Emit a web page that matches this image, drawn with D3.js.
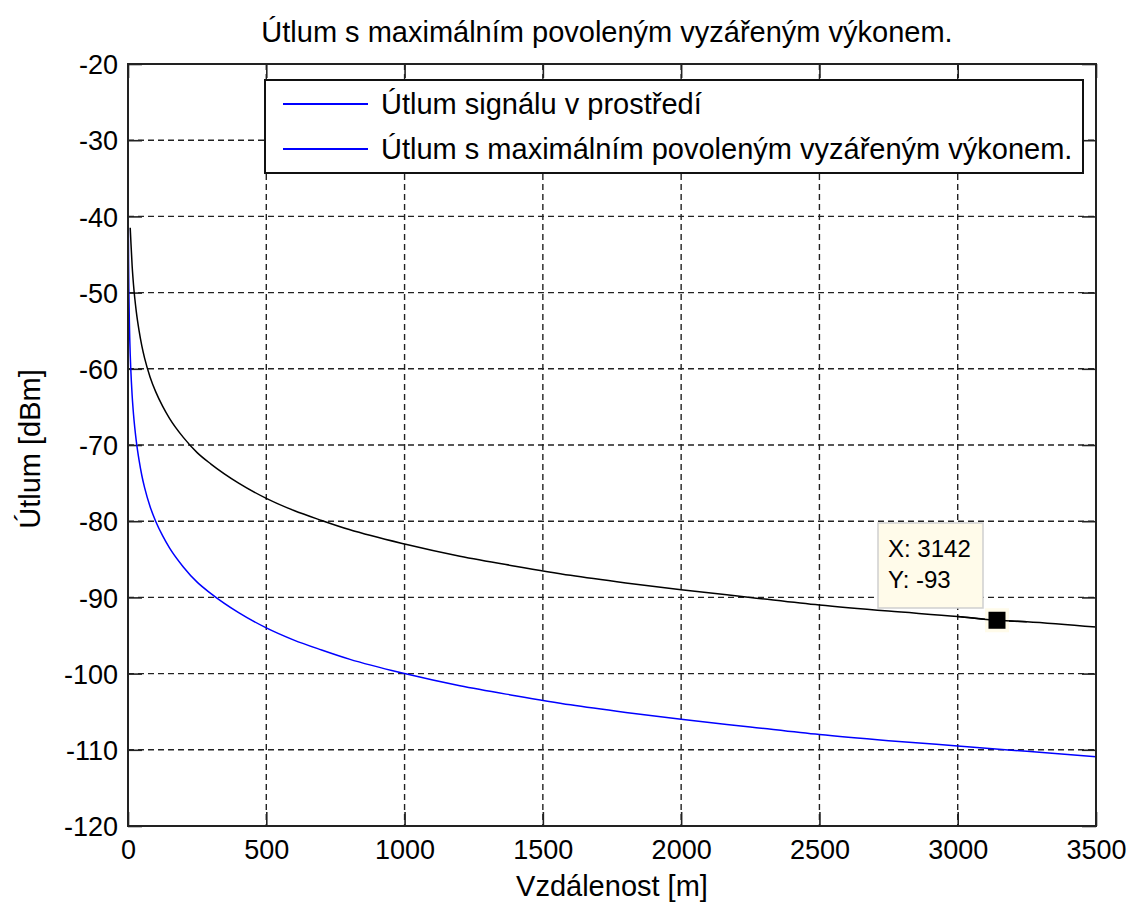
<!DOCTYPE html>
<html>
<head>
<meta charset="utf-8">
<script src="https://cdn.jsdelivr.net/npm/d3@7/dist/d3.min.js"></script>
<style>
  html, body { margin: 0; padding: 0; background: #fff; }
  svg { display: block; }
  text { font-family: "Liberation Sans", Arial, sans-serif; fill: #000; }
</style>
</head>
<body>
<svg id="chart" width="1130" height="903"></svg>
<script>
// Path loss with the maximum permitted radiated power (black)
const distBlack = [8, 10, 15, 20, 30, 40, 50, 60, 80, 100, 125, 150, 200, 250, 300, 400, 500, 600, 700, 800,
  1000, 1200, 1400, 1600, 1800, 2000, 2250, 2500, 2750, 3000, 3142, 3250, 3500];
const lossBlack = [-41.5, -43.0, -46.5, -49.0, -52.5, -55.0, -57.0, -58.6, -61.1, -63.0, -64.9, -66.5, -69.0, -71.0, -72.5, -75.0, -77.0, -78.6, -79.9, -81.1,
  -83.0, -84.6, -85.9, -87.1, -88.1, -89.0, -90.0, -91.0, -91.8, -92.5, -93.0, -93.2, -93.9];

// Signal attenuation in the environment (blue)
const distBlue = [1.2, 2, 3, 5, 8, 10, 15, 20, 30, 40, 50, 60, 80, 100, 125, 150, 200, 250, 300, 400, 500, 600, 700, 800,
  1000, 1200, 1400, 1600, 1800, 2000, 2250, 2500, 2750, 3000, 3250, 3500];
const lossBlue = [-41.5, -46.0, -49.5, -54.0, -58.1, -60.0, -63.5, -66.0, -69.5, -72.0, -74.0, -75.6, -78.1, -80.0, -81.9, -83.5, -86.0, -88.0, -89.5, -92.0, -94.0, -95.6, -96.9, -98.1,
  -100.0, -101.6, -102.9, -104.1, -105.1, -106.0, -107.0, -108.0, -108.8, -109.5, -110.2, -110.9];

const xTicks = [0, 500, 1000, 1500, 2000, 2500, 3000, 3500];
const yTicks = [-20, -30, -40, -50, -60, -70, -80, -90, -100, -110, -120];

const legendLabels = ["Útlum signálu v prostředí", "Útlum s maximálním povoleným vyzářeným výkonem."];
const titleText = "Útlum s maximálním povoleným vyzářeným výkonem.";
const xLabel = "Vzdálenost [m]";
const yLabel = "Útlum [dBm]";

// Data cursor
const tipX = [3142];
const tipY = [-93];

const svg = d3.select("#chart");
const L = 128, T = 64, R = 1096, B = 826;

const x = d3.scaleLinear().domain([0, 3500]).range([L, R]);
const y = d3.scaleLinear().domain([-120, -20]).range([B, T]);

// plain hyphen-minus for negative tick labels
const fmt = d => String(d);

// Grid (dashed)
const grid = svg.append("g")
  .attr("stroke", "#222").attr("stroke-width", 1.4).attr("stroke-dasharray", "6,4");
grid.selectAll("line.gx").data(xTicks.slice(1, -1)).join("line")
  .attr("x1", d => x(d)).attr("x2", d => x(d)).attr("y1", T).attr("y2", B);
grid.selectAll("line.gy").data(yTicks.slice(1, -1)).join("line")
  .attr("x1", L).attr("x2", R).attr("y1", d => y(d)).attr("y2", d => y(d));

// Axes with inward ticks on all four sides
const tickLen = 14;
const axB = svg.append("g").attr("transform", `translate(0,${B})`)
  .call(d3.axisBottom(x).tickValues(xTicks).tickFormat(fmt).tickSizeInner(-tickLen).tickSizeOuter(0).tickPadding(14));
const axT = svg.append("g").attr("transform", `translate(0,${T})`)
  .call(d3.axisTop(x).tickValues(xTicks).tickFormat("").tickSizeInner(-tickLen).tickSizeOuter(0));
const axL = svg.append("g").attr("transform", `translate(${L},0)`)
  .call(d3.axisLeft(y).tickValues(yTicks).tickFormat(fmt).tickSizeInner(-tickLen).tickSizeOuter(0).tickPadding(10));
const axR = svg.append("g").attr("transform", `translate(${R},0)`)
  .call(d3.axisRight(y).tickValues(yTicks).tickFormat("").tickSizeInner(-tickLen).tickSizeOuter(0));

[axB, axT, axL, axR].forEach(g => {
  g.select(".domain").remove();
  g.selectAll(".tick line").attr("stroke", "#222").attr("stroke-width", 1.6);
  g.selectAll("text").attr("font-size", 27).attr("fill", "#000")
    .style("font-family", '"Liberation Sans", Arial, sans-serif');
});
axL.selectAll("text").attr("dy", "0.36em");
axB.selectAll("text").attr("dy", "0.72em");

// Curves
const line = d3.line().x(d => x(d[0])).y(d => y(d[1])).curve(d3.curveMonotoneX);
svg.append("path").datum(d3.zip(distBlack, lossBlack))
  .attr("d", line).attr("fill", "none").attr("stroke", "#000").attr("stroke-width", 1.5);
svg.append("path").datum(d3.zip(distBlue, lossBlue))
  .attr("d", line).attr("fill", "none").attr("stroke", "#0000ff").attr("stroke-width", 1.5);

// Plot box
svg.append("rect").attr("x", L).attr("y", T).attr("width", R - L).attr("height", B - T)
  .attr("fill", "none").attr("stroke", "#222").attr("stroke-width", 2);

// Legend
const lg = svg.append("g");
lg.append("rect").attr("x", 265).attr("y", 80).attr("width", 818).attr("height", 93)
  .attr("fill", "#fff").attr("stroke", "#111").attr("stroke-width", 2);
legendLabels.forEach((lab, i) => {
  const ly = 104 + i * 45;
  lg.append("line").attr("x1", 283).attr("x2", 368).attr("y1", ly).attr("y2", ly)
    .attr("stroke", "#0000ff").attr("stroke-width", 1.8);
  lg.append("text").attr("x", 381).attr("y", ly + 10).attr("font-size", 29).text(lab);
});

// Data cursor marker and tip
const tip = svg.append("g");
tip.append("rect").attr("x", x(tipX[0]) - 12).attr("y", y(tipY[0]) - 12).attr("width", 24).attr("height", 24)
  .attr("fill", "#fffbea");
tip.append("rect").attr("x", 878).attr("y", 523).attr("width", 105).attr("height", 85)
  .attr("fill", "#fffbea").attr("stroke", "#cfcfcf").attr("stroke-width", 1.5);
tip.append("text").attr("x", 888).attr("y", 557).attr("font-size", 24).text("X: " + tipX[0]);
tip.append("text").attr("x", 888).attr("y", 588).attr("font-size", 24).text("Y: " + tipY[0]);
svg.append("path").datum(d3.zip(distBlack, lossBlack).filter(d => d[0] >= 3000 && d[0] <= 3250))
  .attr("d", line).attr("fill", "none").attr("stroke", "#000").attr("stroke-width", 1.5);
tip.append("rect").attr("x", x(tipX[0]) - 8.5).attr("y", y(tipY[0]) - 8.5).attr("width", 17).attr("height", 17)
  .attr("fill", "#000");

// Title and axis labels
svg.append("text").attr("x", (L + R) / 2 - 5).attr("y", 42).attr("text-anchor", "middle")
  .attr("font-size", 29).text(titleText);
svg.append("text").attr("x", (L + R) / 2).attr("y", 896).attr("text-anchor", "middle")
  .attr("font-size", 29).text(xLabel);
svg.append("text").attr("transform", "translate(40,449) rotate(-90)").attr("text-anchor", "middle")
  .attr("font-size", 29).text(yLabel);
</script>
</body>
</html>
